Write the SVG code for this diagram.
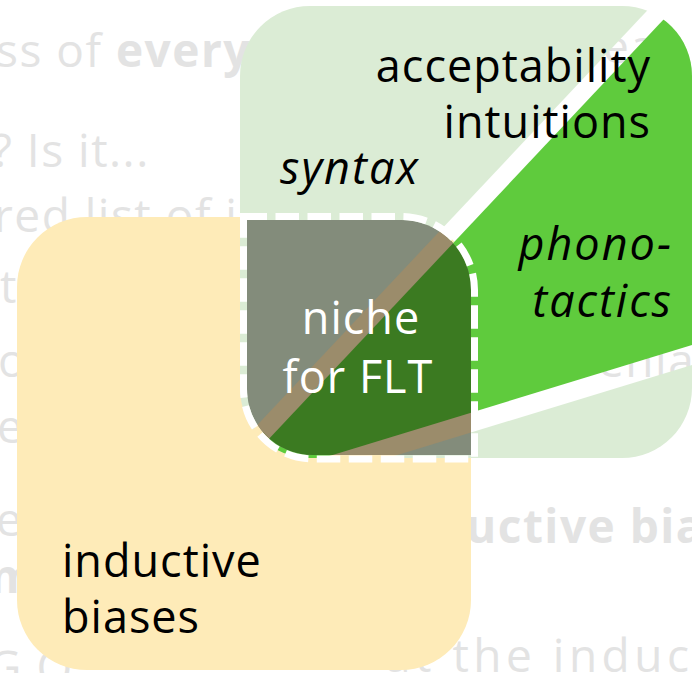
<svg xmlns="http://www.w3.org/2000/svg" width="692" height="673" viewBox="0 0 692 673">
  <style>
    .bg { font-family: "Open Sans", "Noto Sans", sans-serif; font-size: 46px; fill: #e3e3e3; letter-spacing: 1.5px; }
    .bgb { font-weight: bold; }
    .lbl { font-family: "Open Sans", "Noto Sans", sans-serif; font-size: 45px; fill: #000; letter-spacing: 1px; }
    .it { font-style: italic; letter-spacing: 2px; }
    .wh { fill: #ffffff; }
  </style>
  <defs>
    <clipPath id="greenClip">
      <rect x="240" y="6" width="452" height="452" rx="70" ry="70"/>
    </clipPath>
    <clipPath id="nicheClip">
      <path d="M247,220 H401 A70,70 0 0 1 471,290 V455 H313 A66,66 0 0 1 247,389 Z"/>
    </clipPath>
    <mask id="bandMask" maskUnits="userSpaceOnUse" x="0" y="0" width="692" height="673">
      <rect x="0" y="0" width="692" height="673" fill="#fff"/>
      <line x1="191.5" y1="508.1" x2="800" y2="-138.7" stroke="#000" stroke-width="18"/>
      <line x1="191.5" y1="508.1" x2="800" y2="321.95" stroke="#000" stroke-width="19"/>
    </mask>
  </defs>

  <rect x="0" y="0" width="692" height="673" fill="#ffffff"/>

  <g id="background-text" class="bg">
    <text x="-4" y="67">ss of <tspan class="bgb">every</tspan></text>
    <text x="603" y="63">ea</text>
    <text x="-8" y="167">? Is it...</text>
    <text x="-6" y="232">red list of i</text>
    <text x="18" y="303" text-anchor="end">nt</text>
    <text x="-2" y="377">o</text>
    <text x="598" y="377">enla</text>
    <text x="-3" y="443">e</text>
    <text x="-4" y="536">er</text>
    <text x="466" y="543" class="bgb">uctive bia</text>
    <text x="-10" y="593" class="bgb">m</text>
    <text x="385" y="672" style="letter-spacing:4.5px">at the induc</text>
    <text x="-12" y="684">G O</text>
  </g>

  <g id="inductive-biases">
    <rect x="17" y="217" width="454" height="453" rx="70" ry="70" fill="#feebb8"/>
  </g>

  <g id="acceptability-intuitions" mask="url(#bandMask)">
    <g clip-path="url(#greenClip)">
      <rect x="240" y="6" width="452" height="452" fill="#dbecd5"/>
      <polygon id="phonotactics-wedge" points="191.5,508.1 800,-138.7 800,321.95" fill="#5fcb3d"/>
    </g>
  </g>

  <g id="niche">
    <g clip-path="url(#nicheClip)">
      <rect x="240" y="210" width="240" height="255" fill="#838c7b"/>
      <polygon points="191.5,508.1 800,-138.7 800,321.95" fill="#3b7a21"/>
      <line x1="191.5" y1="508.1" x2="800" y2="-138.7" stroke="#9b8c6b" stroke-width="18"/>
      <line x1="191.5" y1="508.1" x2="800" y2="321.95" stroke="#9b8c6b" stroke-width="19"/>
    </g>
    <path d="M243.5,216.5 H401 A73.5,73.5 0 0 1 474.5,290 V459 H313 A69.5,69.5 0 0 1 243.5,389.5 Z" fill="none" stroke="#ffffff" stroke-width="7" stroke-dasharray="23.5 8.5"/>
    <text class="lbl wh" x="361" y="334" text-anchor="middle">niche</text>
    <text class="lbl wh" x="358" y="393" text-anchor="middle">for FLT</text>
  </g>

  <g id="labels">
    <text class="lbl" x="651" y="82" text-anchor="end">acceptability</text>
    <text class="lbl" x="651" y="138" text-anchor="end">intuitions</text>
    <text class="lbl it" x="280" y="184">syntax</text>
    <text class="lbl it" x="673" y="260" text-anchor="end">phono-</text>
    <text class="lbl it" x="673" y="317" text-anchor="end">tactics</text>
    <text class="lbl" x="62" y="577">inductive</text>
    <text class="lbl" x="62" y="633">biases</text>
  </g>
</svg>
